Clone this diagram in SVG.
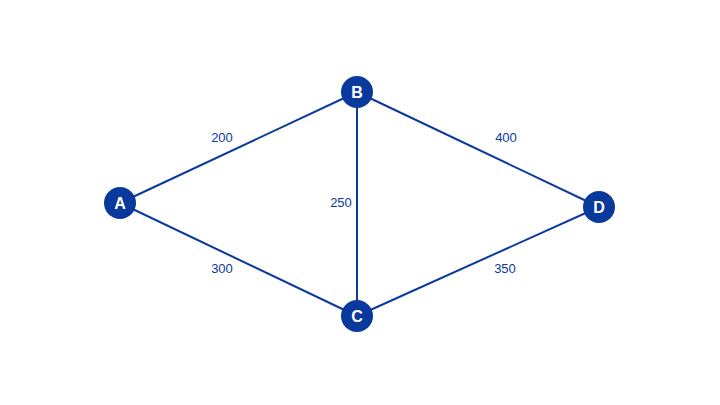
<svg xmlns="http://www.w3.org/2000/svg" width="720" height="405" viewBox="0 0 720 405">
<style>
.edge{stroke:#0a399e;stroke-width:2;fill:none}
.node circle{fill:#0a399e}
.node text{fill:#ffffff;font-family:"Liberation Sans",Arial,sans-serif;font-weight:bold;font-size:16px;text-anchor:middle;dominant-baseline:central}
.lbl{fill:#0a399e;font-family:"Liberation Sans",Arial,sans-serif;font-size:13px;text-anchor:middle;dominant-baseline:central}
</style>
<rect width="720" height="405" fill="#ffffff"/>
<g id="connectors">
<line class="edge" x1="120" y1="203" x2="357" y2="92"/>
<line class="edge" x1="120" y1="203" x2="357" y2="316"/>
<line class="edge" x1="357" y1="92" x2="357" y2="316"/>
<line class="edge" x1="357" y1="92" x2="599" y2="207"/>
<line class="edge" x1="357" y1="316" x2="599" y2="207"/>
<text class="lbl" x="222" y="137">200</text>
<text class="lbl" x="222" y="268">300</text>
<text class="lbl" x="341" y="202">250</text>
<text class="lbl" x="506" y="137">400</text>
<text class="lbl" x="505" y="268">350</text>
</g>
<g id="node-A" class="node"><circle cx="120" cy="203" r="16"/><text x="120" y="203">A</text></g>
<g id="node-B" class="node"><circle cx="357" cy="92" r="16"/><text x="357" y="92">B</text></g>
<g id="node-C" class="node"><circle cx="357" cy="316" r="16"/><text x="357" y="316">C</text></g>
<g id="node-D" class="node"><circle cx="599" cy="207" r="16"/><text x="599" y="207">D</text></g>
</svg>
